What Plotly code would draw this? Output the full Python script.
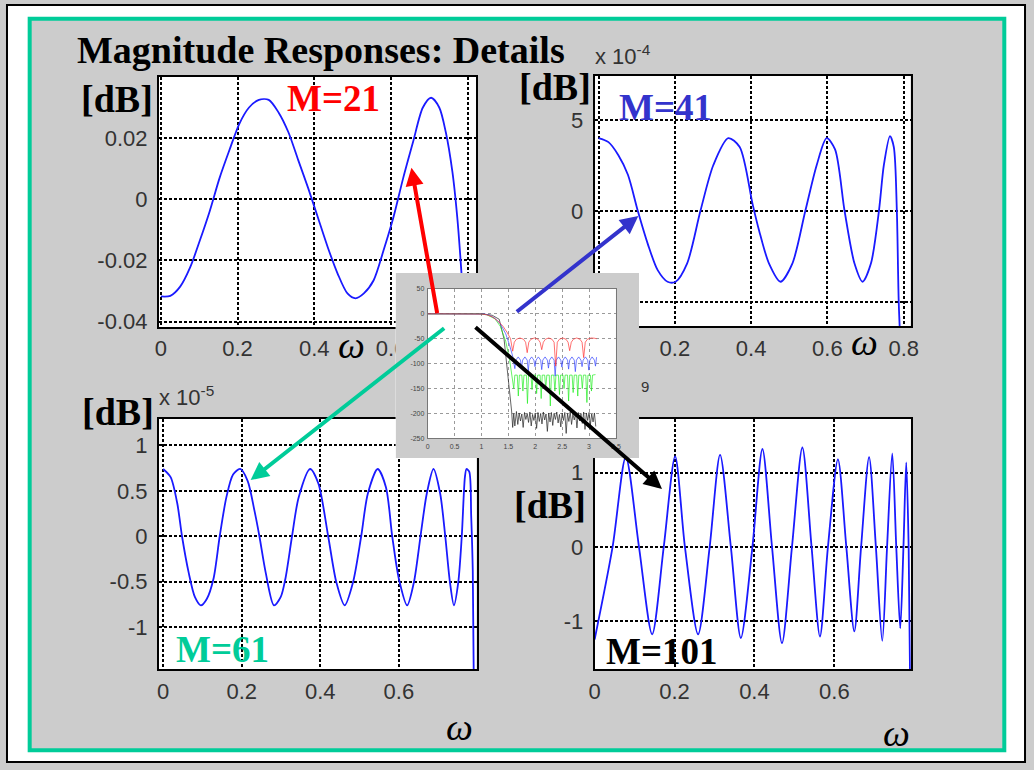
import plotly.graph_objects as go

W, H = 1034, 770

# ---------------- data ----------------
# M = 21 passband detail  [dB]
w21 = [0.0, 0.0248, 0.0504, 0.0761, 0.1017, 0.1274, 0.153, 0.1786, 0.2043, 0.2299,
       0.2556, 0.2812, 0.3068, 0.3325, 0.3581, 0.3838, 0.4094, 0.435, 0.4607, 0.4863,
       0.5077, 0.5291, 0.5547, 0.5803, 0.606, 0.6316, 0.6573, 0.6829, 0.7043, 0.7256,
       0.7427, 0.7598, 0.7726, 0.7812, 0.7872, 0.795]
db21 = [-0.0318, -0.0316, -0.0286, -0.0224, -0.0135, -0.0039, 0.0069, 0.016, 0.0246,
        0.030, 0.0325, 0.0325, 0.0284, 0.0219, 0.0128, 0.0037, -0.006, -0.0157, -0.0243,
        -0.0308, -0.0324, -0.0308, -0.0265, -0.0168, -0.006, 0.0069, 0.0187, 0.030,
        0.0332, 0.030, 0.0219, 0.009, -0.006, -0.020, -0.0318, -0.06]

# M = 41 passband detail  [dB x 1e-4]
w41 = [0, 0.026, 0.052, 0.077, 0.103, 0.129, 0.155, 0.181, 0.202, 0.232, 0.267, 0.301,
       0.34, 0.37, 0.404, 0.421, 0.447, 0.477, 0.508, 0.542, 0.572, 0.598, 0.62, 0.645,
       0.671, 0.692, 0.714, 0.735, 0.748, 0.764, 0.774, 0.782, 0.787, 0.795]
db41 = [4.02, 3.8, 3.08, 2.0, 0.0, -1.81, -3.26, -3.9, -3.9, -2.9, 0.0, 2.54, 4.02,
        3.53, 0.36, -1.09, -2.9, -3.9, -2.9, 0.0, 2.54, 4.02, 3.4, 0.0, -2.9, -3.9,
        -2.9, 0.0, 2.54, 4.13, 3.53, 0.0, -5.07, -9.0]

# M = 61 passband detail  [dB x 1e-5]
w61 = [0, 0.019, 0.036, 0.048, 0.065, 0.081, 0.096, 0.111, 0.128, 0.144, 0.161, 0.178,
       0.196, 0.215, 0.232, 0.245, 0.261, 0.282, 0.299, 0.311, 0.328, 0.345, 0.374,
       0.395, 0.42, 0.441, 0.462, 0.483, 0.504, 0.521, 0.546, 0.567, 0.583, 0.6, 0.621,
       0.638, 0.655, 0.671, 0.688, 0.705, 0.718, 0.73, 0.74, 0.751, 0.76, 0.768, 0.772,
       0.779, 0.784, 0.788, 0.791]
db61 = [0.74, 0.65, 0.36, 0.0, -0.40, -0.67, -0.76, -0.69, -0.47, 0.0, 0.43, 0.68,
        0.74, 0.61, 0.29, 0.0, -0.40, -0.76, -0.67, -0.47, 0.0, 0.43, 0.74, 0.58, 0.0,
        -0.51, -0.76, -0.51, 0.0, 0.47, 0.74, 0.54, 0.0, -0.47, -0.76, -0.51, 0.0, 0.47,
        0.74, 0.47, 0.0, -0.51, -0.76, -0.51, 0.0, 0.65, 0.74, 0.71, 0.22, -0.38, -1.8]

# M = 101 passband detail  [dB x 1e-9]
w101 = [0, 0.045, 0.078, 0.111, 0.144, 0.173, 0.2015, 0.226, 0.259, 0.288, 0.314,
        0.341, 0.366, 0.395, 0.42, 0.444, 0.469, 0.494, 0.52, 0.543, 0.564, 0.584,
        0.609, 0.63, 0.65, 0.667, 0.687, 0.704, 0.72, 0.732, 0.745, 0.755, 0.765,
        0.773, 0.78, 0.786, 0.79]
db101 = [-1.25, 0.0, 1.21, 0.0, -1.18, 0.0, 1.22, 0.0, -1.18, 0.0, 1.24, 0.0, -1.23,
         0.0, 1.32, 0.0, -1.30, 0.0, 1.34, 0.0, -1.21, 0.0, 1.18, 0.0, -1.14, 0.0,
         1.21, 0.0, -1.27, 0.0, 1.26, 0.0, -1.10, 0.0, 1.14, 0.0, -2.0]

# Inset: full magnitude responses 0..pi [dB]
red_w = [0, 0.9, 1.0, 1.1, 1.2, 1.3, 1.4, 1.48, 1.54, 1.58,
         1.61, 1.65, 1.715, 1.78, 1.82, 1.85, 1.88, 1.92, 1.985, 2.05, 2.09, 2.12,
         2.15, 2.19, 2.25, 2.31, 2.35, 2.38, 2.41, 2.45, 2.51, 2.57, 2.61, 2.64,
         2.67, 2.71, 2.77, 2.83, 2.87, 2.90, 2.93, 2.97, 3.04, 3.10, 3.14]
red_db = [0, 0, -0.5, -2, -6, -14, -25, -38, -50, -75,
          -57, -51, -48.5, -51, -57, -78, -57, -51, -48.5, -51, -57, -72,
          -57, -51, -48.5, -51, -57, -105, -57, -51, -48.5, -51, -57, -74,
          -57, -51, -48.5, -51, -57, -88, -57, -51, -48.5, -49, -50]

blue_w = [0, 0.95, 1.05, 1.15, 1.25, 1.35, 1.45, 1.52, 1.58, 1.62,
          1.64, 1.6825, 1.725, 1.745, 1.765, 1.8075, 1.85, 1.87,
          1.89, 1.9325, 1.975, 1.995, 2.015, 2.0575, 2.10, 2.12,
          2.14, 2.1825, 2.225, 2.245, 2.265, 2.3075, 2.35, 2.37,
          2.39, 2.4325, 2.475, 2.495, 2.515, 2.5575, 2.60, 2.62,
          2.64, 2.6825, 2.725, 2.745, 2.765, 2.8075, 2.85, 2.87,
          2.89, 2.9325, 2.975, 2.995, 3.015, 3.0575, 3.10, 3.12, 3.14]
blue_db = [0, 0, -0.5, -3, -9, -20, -40, -62, -85, -110,
           -93, -86.5, -93, -108, -93, -86.5, -93, -115,
           -93, -86.5, -93, -106, -93, -86.5, -93, -112,
           -93, -86.5, -93, -109, -93, -86.5, -93, -125,
           -93, -86.5, -93, -107, -93, -86.5, -93, -111,
           -93, -86.5, -93, -116, -93, -86.5, -93, -106,
           -93, -86.5, -93, -113, -93, -86.5, -93, -105, -87]

green_w = [0, 0.95, 1.1, 1.25, 1.35, 1.45, 1.52, 1.57, 1.60,
           1.62, 1.665, 1.685, 1.705, 1.75, 1.77, 1.79, 1.835, 1.855,
           1.875, 1.92, 1.94, 1.96, 2.005, 2.025, 2.045, 2.09, 2.11,
           2.13, 2.175, 2.195, 2.215, 2.26, 2.28, 2.30, 2.345, 2.365,
           2.385, 2.43, 2.45, 2.47, 2.515, 2.535, 2.555, 2.60, 2.62,
           2.64, 2.685, 2.705, 2.725, 2.77, 2.79, 2.81, 2.855, 2.875,
           2.895, 2.94, 2.96, 2.98, 3.025, 3.045, 3.065, 3.12]
green_db = [0, 0, -2, -10, -25, -55, -90, -122, -150,
            -123, -123, -165, -123, -123, -155, -123, -123, -180,
            -123, -123, -152, -123, -123, -160, -123, -123, -170,
            -123, -123, -150, -123, -123, -185, -123, -123, -155,
            -123, -123, -162, -123, -123, -150, -123, -123, -175,
            -123, -123, -158, -123, -123, -165, -123, -123, -150,
            -123, -123, -178, -123, -123, -155, -123, -122]

black_w = [0, 1.0, 1.2, 1.33, 1.42, 1.48, 1.52, 1.56, 1.58, 1.60, 1.62,
           1.65, 1.675, 1.70, 1.725, 1.75, 1.775, 1.80, 1.825, 1.85, 1.875,
           1.90, 1.925, 1.95, 1.975, 2.00, 2.025, 2.05, 2.075, 2.10, 2.125,
           2.15, 2.175, 2.20, 2.225, 2.25, 2.275, 2.30, 2.325, 2.35, 2.375,
           2.40, 2.425, 2.45, 2.475, 2.50, 2.525, 2.55, 2.575, 2.60, 2.625,
           2.65, 2.675, 2.70, 2.725, 2.75, 2.775, 2.80, 2.825, 2.85, 2.875,
           2.90, 2.925, 2.95, 2.975, 3.00, 3.025, 3.05, 3.075, 3.10, 3.125]
black_db = [0, 0, -3, -11, -51, -110, -163, -195, -228, -200, -225,
            -196, -222, -199, -215, -201, -228, -198, -212, -200, -218,
            -197, -225, -202, -214, -199, -230, -198, -216, -200, -221,
            -197, -213, -201, -236, -199, -217, -198, -224, -200, -212,
            -197, -219, -202, -227, -199, -214, -198, -240, -200, -216,
            -197, -222, -201, -213, -199, -229, -198, -215, -200, -220,
            -197, -232, -199, -214, -198, -223, -201, -217, -199, -226]

# tick values / labels
t21_x = [0, 0.2, 0.4, 0.6, 0.8]
t21_xl = ['0', '0.2', '0.4', '0.6', '0.8']
t21_y = [-0.04, -0.02, 0, 0.02]
t21_yl = ['-0.04', '-0.02', '0', '0.02']
t41_x = [0, 0.2, 0.4, 0.6, 0.8]
t41_xl = ['0', '0.2', '0.4', '0.6', '0.8']
t41_y = [-5, 0, 5]
t41_yl = ['-5', '0', '5']
t61_x = [0, 0.2, 0.4, 0.6]
t61_xl = ['0', '0.2', '0.4', '0.6']
t61_y = [-1, -0.5, 0, 0.5, 1]
t61_yl = ['-1', '-0.5', '0', '0.5', '1']
t101_x = [0, 0.2, 0.4, 0.6]
t101_xl = ['0', '0.2', '0.4', '0.6']
t101_y = [-1, 0, 1]
t101_yl = ['-1', '0', '1']
tin_x = [0, 0.5, 1, 1.5, 2, 2.5, 3, 3.5]
tin_xl = ['0', '0.5', '1', '1.5', '2', '2.5', '3', '3.5']
tin_y = [-250, -200, -150, -100, -50, 0, 50]
tin_yl = ['-250', '-200', '-150', '-100', '-50', '0', '50']

# ---------------- layout helpers ----------------
def dx(a, b):
    return [a / W, b / W]

def dy(top, bot):
    return [1 - bot / H, 1 - top / H]

def px(x):
    return x / W

def py(y):
    return 1 - y / H

GRAY = '#CCCCCC'
TEAL = '#00CC99'
MBLUE = '#3333CC'
SERIF = 'Liberation Serif, Times New Roman, serif'
SANS = 'Liberation Sans, Arial, sans-serif'

fig = go.Figure()

panels = [
    dict(n=1, w=w21, v=db21, box=(155, 74, 476.7, 327.7), xr=[-0.005, 0.822],
         yr=[-0.0418, 0.0400], xt=t21_x, xl=t21_xl, yt=t21_y, yl=t21_yl),
    dict(n=2, w=w41, v=db41, box=(596.7, 73, 917, 327), xr=[-0.0103, 0.818],
         yr=[-6.36, 7.45], xt=t41_x, xl=t41_xl, yt=t41_y, yl=t41_yl),
    dict(n=3, w=w61, v=db61, box=(155, 421, 477, 675), xr=[-0.0108, 0.7976],
         yr=[-1.464, 1.29], xt=t61_x, xl=t61_xl, yt=t61_y, yl=t61_yl),
    dict(n=4, w=w101, v=db101, box=(596.7, 420.7, 917.3, 675), xr=[0, 0.7916],
         yr=[-1.653, 1.729], xt=t101_x, xl=t101_xl, yt=t101_y, yl=t101_yl),
]

layout = {}
ax_common = dict(showgrid=True, gridcolor='black', griddash='3px,2px', gridwidth=1.7,
                 showline=True, linecolor='black', linewidth=2, mirror=True,
                 zeroline=False, ticks='', tickmode='array',
                 tickfont=dict(family=SANS, size=22, color='#333333'))

def axname(letter, n):
    return letter + ('' if n == 1 else str(n))

for p in panels:
    n = p['n']
    xa, ya = axname('x', n), axname('y', n)
    fig.add_trace(go.Scatter(x=p['w'], y=p['v'], mode='lines',
                             line=dict(color='#1a1aff', width=1.8, shape='spline', smoothing=0.8),
                             xaxis=xa, yaxis=ya, showlegend=False, hoverinfo='skip'))
    x0, y0, x1, y1 = p['box']
    layout[axname('xaxis', n)] = dict(domain=dx(x0, x1), range=p['xr'], anchor=ya,
                                      tickvals=p['xt'], ticktext=p['xl'],
                                      ticklabelstandoff=1, **ax_common)
    layout[axname('yaxis', n)] = dict(domain=dy(y0, y1), range=p['yr'], anchor=xa,
                                      tickvals=p['yt'], ticktext=p['yl'],
                                      ticklabelstandoff=5, **ax_common)

# cover subplot (gray background of the pasted inset)
fig.add_trace(go.Scatter(x=[0.5], y=[0.5], mode='lines', xaxis='x5', yaxis='y5',
                         showlegend=False, hoverinfo='skip'))
layout['xaxis5'] = dict(domain=dx(395, 641.7), range=[0, 1], anchor='y5', showgrid=False,
                        showticklabels=False, zeroline=False, showline=False, ticks='')
layout['yaxis5'] = dict(domain=dy(273, 460.5), range=[0, 1], anchor='x5', showgrid=False,
                        showticklabels=False, zeroline=False, showline=False, ticks='')

# inset subplot
inset_lines = [
    (black_w, black_db, '#222222'),
    (green_w, green_db, '#22ee22'),
    (blue_w, blue_db, '#3344ff'),
    (red_w, red_db, '#ff3333'),
]
for wv, dv, col in inset_lines:
    fig.add_trace(go.Scatter(x=wv, y=dv, mode='lines', line=dict(color=col, width=0.7),
                             xaxis='x6', yaxis='y6', showlegend=False, hoverinfo='skip'))
in_common = dict(showgrid=True, gridcolor='#9a9a9a', griddash='dot', gridwidth=0.6,
                 showline=True, linecolor='#777777', linewidth=0.8, mirror=True,
                 zeroline=False, ticks='', tickmode='array', ticklabelstandoff=1,
                 tickfont=dict(family=SANS, size=7, color='#444444'))
layout['xaxis6'] = dict(domain=dx(427.5, 618.3), range=[0, 3.5], anchor='y6',
                        tickvals=tin_x, ticktext=tin_xl, **in_common)
layout['yaxis6'] = dict(domain=dy(289, 440.7), range=[-250, 50], anchor='x6',
                        tickvals=tin_y, ticktext=tin_yl, **in_common)

# ---------------- shapes ----------------
inner = (24 / W, 1 - 757 / H, 1012 / W, 1 - 15 / H)
frame_path = ('M0,0 H1 V1 H0 Z M{0},{1} H{2} V{3} H{0} Z'
              .format(*inner))
shapes = [
    dict(type='path', path=frame_path, xref='paper', yref='paper', fillcolor='white',
         fillrule='evenodd', line=dict(width=0), layer='below'),
    dict(type='rect', xref='paper', yref='paper', x0=inner[0], y0=inner[1], x1=inner[2],
         y1=inner[3], line=dict(color=TEAL, width=4), layer='below'),
    dict(type='rect', xref='paper', yref='paper', x0=1 / W, y0=1 / H, x1=1 - 1 / W,
         y1=1 - 1 / H, line=dict(color='black', width=2), layer='below'),
    dict(type='rect', xref='x5', yref='y5', x0=0, y0=0, x1=1, y1=1, fillcolor=GRAY,
         line=dict(width=0), layer='below'),
]

# ---------------- annotations ----------------
def txt(x, y, text, size, color='black', family=SERIF, xanchor='center', yanchor='middle'):
    return dict(x=px(x), y=py(y), xref='paper', yref='paper', text=text, showarrow=False,
                font=dict(family=family, size=size, color=color), xanchor=xanchor,
                yanchor=yanchor, borderpad=0)

def arrow(hx, hy, tx, ty, color):
    return dict(x=px(hx), y=py(hy), xref='paper', yref='paper', ax=tx - hx, ay=ty - hy,
                text='', showarrow=True, arrowhead=2, arrowsize=0.9, arrowwidth=4,
                arrowcolor=color)

annotations = [
    txt(71, 47, '<b>Magnitude Responses: Details</b>', 38, xanchor='left'),
    txt(113, 96, '<b>[dB]</b>', 38),
    txt(557, 84, '<b>[dB]</b>', 38),
    txt(114, 414, '<b>[dB]</b>', 38),
    txt(551, 508, '<b>[dB]</b>', 38),
    txt(332.5, 96, '<b>M=21</b>', 37, color='#FF0000'),
    txt(669, 105, '<b>M=41</b>', 37, color=MBLUE),
    txt(219, 655, '<b>M=61</b>', 37, color=TEAL),
    txt(665, 657, '<b>M=101</b>', 37, color='black'),
    txt(350, 346, '<i>ω</i>', 38),
    txt(870, 343, '<i>ω</i>', 38),
    txt(460, 733, '<i>ω</i>', 38),
    txt(903, 740, '<i>ω</i>', 38),
    txt(596, 67, 'x 10<sup>-4</sup>', 22, color='#333333', family=SANS, xanchor='left',
        yanchor='bottom'),
    txt(154, 413, 'x 10<sup>-5</sup>', 22, color='#333333', family=SANS, xanchor='left',
        yanchor='bottom'),
    txt(648, 398, '9', 15, color='#333333', family=SANS, yanchor='bottom'),
    arrow(411, 166, 437, 313, '#FF0000'),
    arrow(641, 215, 518, 312, MBLUE),
    arrow(248, 483, 443, 330, TEAL),
    arrow(665, 492, 477, 329, 'black'),
]

fig.update_layout(
    width=W, height=H, autosize=False,
    margin=dict(l=0, r=0, t=0, b=0),
    paper_bgcolor=GRAY, plot_bgcolor='white',
    shapes=shapes, annotations=annotations,
    showlegend=False,
    **layout,
)

fig.write_html('out.html', config={'displayModeBar': False},
               post_script="document.body.style.margin='0px';"
                           "document.body.style.overflow='hidden';")
